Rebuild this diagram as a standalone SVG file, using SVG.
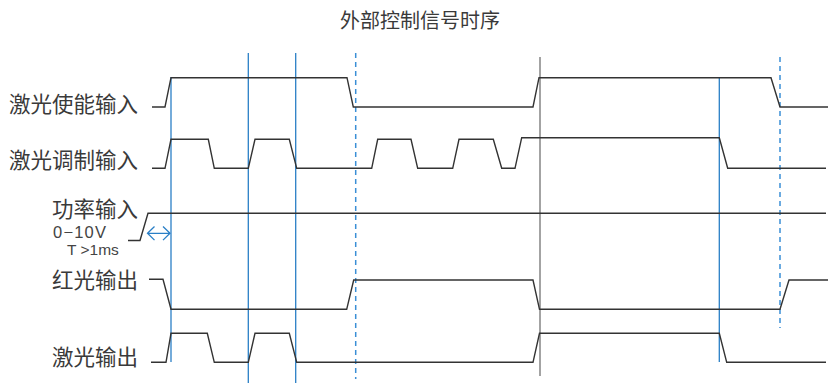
<svg xmlns="http://www.w3.org/2000/svg" width="828" height="383" viewBox="0 0 828 383">
<style>
.t{font-family:"Noto Sans CJK SC","Liberation Sans",sans-serif;font-size:20px;fill:#3a3a3a}
.l{font-size:21.5px}
.s{font-family:"Liberation Sans",Arial,sans-serif;fill:#444}
.w{fill:none;stroke:#333;stroke-width:1.4;stroke-linejoin:miter}
.b{stroke:#2a7fc6;stroke-width:1.3;fill:none}
.d{stroke:#3a8fd6;stroke-width:1.5;stroke-dasharray:5,4;fill:none}
.g{stroke:#858585;stroke-width:1.5;fill:none}
</style>
<rect width="828" height="383" fill="#fff"/>
<text class="t" x="420" y="28" text-anchor="middle">外部控制信号时序</text>
<g id="labels">
<text class="t l" x="138" y="112" text-anchor="end">激光使能输入</text>
<text class="t l" x="138" y="168" text-anchor="end">激光调制输入</text>
<text class="t l" x="138" y="217" text-anchor="end">功率输入</text>
<text class="s" x="53" y="237.5" font-size="16.5" letter-spacing="1.2" fill="#555">0−10V</text>
<text class="s" x="67" y="254.5" font-size="15.5">T &gt;1ms</text>
<text class="t l" x="138" y="288" text-anchor="end">红光输出</text>
<text class="t l" x="138" y="365" text-anchor="end">激光输出</text>
</g>
<g id="connectors">
<line class="b" x1="171" y1="77" x2="171" y2="362"/>
<line class="b" x1="248.3" y1="53" x2="248.3" y2="383"/>
<line class="b" x1="295.7" y1="53" x2="295.7" y2="383"/>
<line class="d" x1="355.7" y1="53" x2="355.7" y2="379"/>
<line class="g" x1="540" y1="57" x2="540" y2="376"/>
<line class="b" x1="719.3" y1="77" x2="719.3" y2="362"/>
<line class="d" x1="780" y1="57" x2="780" y2="328"/>
<path class="b" d="M147.5,233.3 H170 M154.5,226.5 L147.5,233.3 L154.5,240.1 M163,226.5 L170,233.3 L163,240.1"/>
</g>
<g id="enable">
<path class="w" stroke="#555" d="M152,107 H165 L171,77.7 H347 L353.3,107 H533 L539,77.7 H771 L780,107 H828"/>
</g>
<g id="modulation">
<path class="w" d="M152,168.3 H165 L171,139.3 H208.3 L214.3,168.3 H248.3 L255,139.3 H289.3 L296.7,168.3 H371.7 L377.7,139.3 H411 L417.7,168.3 H452.7 L459,139.3 H493.3 L501.7,168.3 H515 L521.7,137.7 H719.3 L727.7,168.3 H826"/>
</g>
<g id="power">
<path class="w" d="M128,240.5 H140 L148,213.3 H826"/>
</g>
<g id="red">
<path class="w" d="M149,279.3 H163 L171,309.3 H346.7 L353.7,280 H533 L539.5,309.3 H780 L789,280 H828"/>
</g>
<g id="laser">
<path class="w" d="M151,362.3 H166 L171,333.3 H207.3 L214.3,362.3 H248.3 L255,333.3 H289.3 L296.7,362.3 H533 L539.5,333.3 H719.3 L726.7,362.3 H826"/>
</g>
</svg>
